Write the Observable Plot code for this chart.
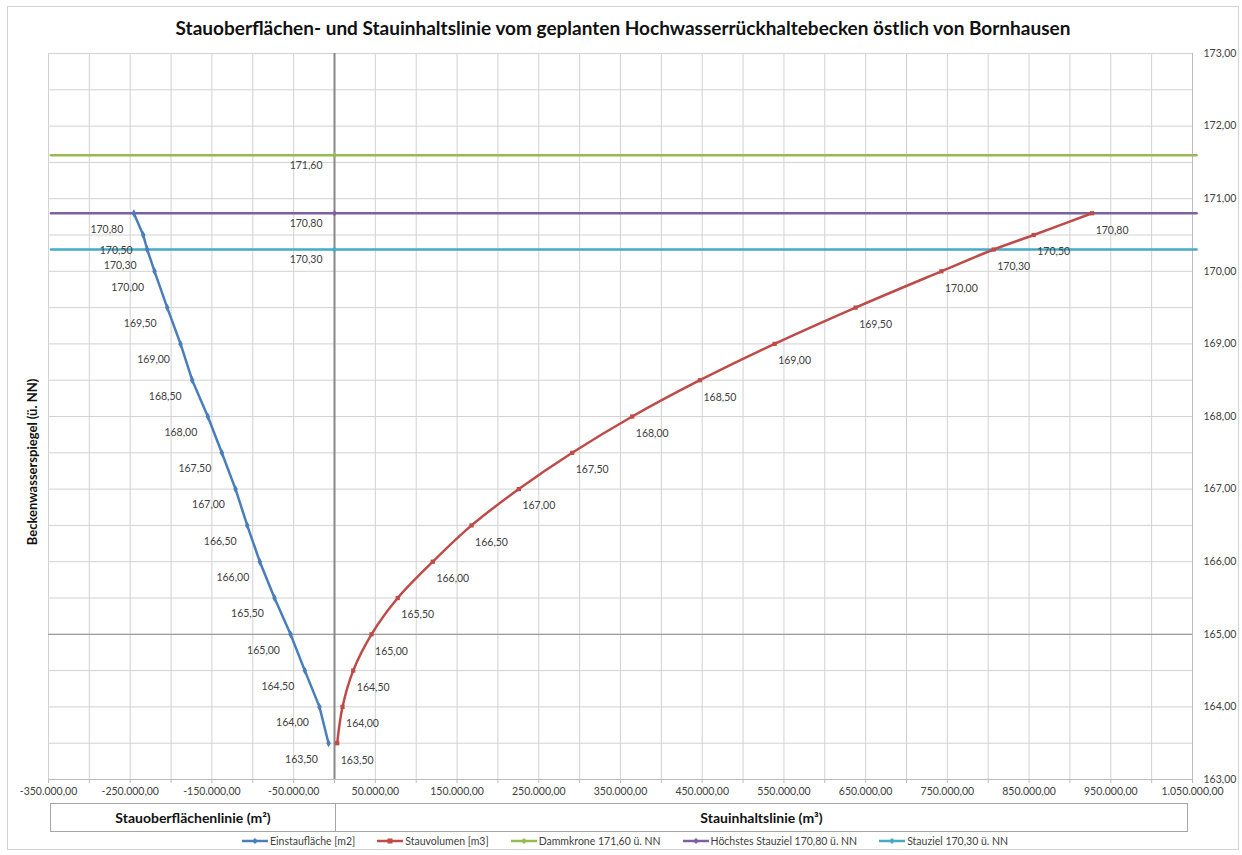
<!DOCTYPE html>
<html>
<head>
<meta charset="utf-8">
<script src="https://cdn.jsdelivr.net/npm/d3@7"></script>
<script src="https://cdn.jsdelivr.net/npm/@observablehq/plot@0.6"></script>
<style>
  body { margin: 0; background: #fff; font-family: Lato, "Open Sans", sans-serif; }
  #frame { position: absolute; left: 7px; top: 6px; width: 1232px; height: 844px; border: 1px solid #d4d4d4; box-sizing: border-box; }
  #title { position: absolute; left: 0; top: 16px; width: 1246px; text-align: center; font-weight: bold; font-size: 19px; color: #111; z-index: 2; }
  #chart { position: absolute; left: 0; top: 0; }
  #ylabel { position: absolute; left: -118px; top: 454px; width: 300px; text-align: center; font-weight: bold; font-size: 13px; line-height: 16px; color: #111; transform: rotate(-90deg); }
  #xbox { position: absolute; left: 50px; top: 803px; width: 1138px; height: 29px; border: 1px solid #a6a6a6; box-sizing: border-box; display: flex; font-weight: bold; font-size: 14px; color: #111; }
  #xbox div { display: flex; align-items: center; justify-content: center; }
  #legend { position: absolute; left: 0; top: 835px; width: 1250px; display: flex; justify-content: center; gap: 22px; font-size: 10.5px; color: #404040; }
  .item { display: flex; align-items: center; gap: 2px; }
</style>
</head>
<body>
<div id="frame"></div>
<div id="title"></div>
<div id="chart"></div>
<div id="ylabel"></div>
<div id="xbox"></div>
<div id="legend"></div>
<script>
// Water levels (m ü. NN) at which area and volume were computed
const levels = [163.5, 164.0, 164.5, 165.0, 165.5, 166.0, 166.5, 167.0, 167.5, 168.0, 168.5, 169.0, 169.5, 170.0, 170.3, 170.5, 170.8];
// Einstaufläche in m² (drawn to the left of the zero line, hence negative)
const flaeche = [-7300, -18400, -36300, -53800, -73400, -91400, -106800, -121100, -137900, -155000, -174100, -188400, -204700, -220200, -229200, -234100, -245600];
// Stauvolumen in m³
const volumen = [3300, 9800, 22900, 45300, 77400, 120300, 167700, 225600, 290900, 364400, 447200, 538600, 637700, 742700, 806700, 855600, 927100];

// Reference levels
const refNames = ["Dammkrone 171,60 ü. NN", "Höchstes Stauziel 170,80 ü. NN", "Stauziel 170,30 ü. NN"];
const refLevels = [171.6, 170.8, 170.3];
const refSpan = [-347000, 0, 1055000];

const seriesNames = ["Einstaufläche [m2]", "Stauvolumen [m3]"];
const titleText = "Stauoberflächen- und Stauinhaltslinie vom geplanten Hochwasserrückhaltebecken östlich von Bornhausen";
const yTitle = "Beckenwasserspiegel  (ü. NN)";
const xTitles = ["Stauoberflächenlinie (m²)", "Stauinhaltslinie (m³)"];

const xTicks = d3.range(-350000, 1050001, 50000);
const xLabelTicks = d3.range(-350000, 1050001, 100000);
const yTicks = d3.range(163, 173.001, 1);
const yGrid = d3.range(163, 173.001, 0.5);

const colors = { blue: "#4a7ebb", red: "#be4b48", green: "#98b954", purple: "#7d60a0", aqua: "#46aac5" };
const refColors = [colors.green, colors.purple, colors.aqua];

const de = d3.formatLocale({ decimal: ",", thousands: ".", grouping: [3], currency: ["", " €"], minus: "-" });
const fmt = de.format(",.2f");

const rows = levels.map((h, i) => ({ h, a: flaeche[i], v: volumen[i] }));
const refRows = refLevels.flatMap((lvl, k) => refSpan.map(x => ({ name: refNames[k], lvl, x, k })));
const refMid = refLevels.map((lvl, k) => ({ lvl, k }));

const chart = Plot.plot({
  width: 1242,
  height: 800,
  marginLeft: 48,
  marginRight: 50,
  marginTop: 53,
  marginBottom: 21,
  x: { domain: [-350000, 1050000] },
  y: { domain: [163, 173] },
  style: { fontFamily: "Lato, 'Open Sans', sans-serif", fontSize: "10.5px", color: "#404040", background: "transparent", overflow: "visible" },
  marks: [
    Plot.gridX(xTicks, { stroke: "#d2d2d2", strokeOpacity: 1 }),
    Plot.gridY(yGrid, { stroke: "#d2d2d2", strokeOpacity: 1 }),
    Plot.ruleY([165], { stroke: "#8c8c8c", strokeWidth: 1 }),
    Plot.ruleY([163], { stroke: "#bcbcbc", strokeWidth: 1 }),
    Plot.ruleX([1050000], { stroke: "#bcbcbc", strokeWidth: 1 }),
    Plot.ruleX([0], { stroke: "#888888", strokeWidth: 2 }),
    Plot.axisX({ ticks: xTicks, tickSize: 4, tickPadding: 4, label: null, stroke: "#bcbcbc",
      tickFormat: d => xLabelTicks.includes(d) ? fmt(d) : "" }),
    Plot.axisY({ anchor: "right", ticks: yTicks, tickSize: 0, tickPadding: 11, label: null, tickFormat: fmt }),
    // reference levels
    Plot.line(refRows, { x: "x", y: "lvl", z: "name", stroke: d => refColors[d.k], strokeWidth: 2.5 }),
    Plot.dot(refMid, { x: 0, y: "lvl", symbol: "diamond", r: 2.2, fill: d => refColors[d.k] }),
    Plot.text(refMid, { x: 0, y: "lvl", text: d => fmt(d.lvl), textAnchor: "end", dx: -12, dy: 10, fill: "#404040" }),
    // surface area line
    Plot.line(rows, { x: "a", y: "h", stroke: colors.blue, strokeWidth: 2.5 }),
    Plot.dot(rows, { x: "a", y: "h", symbol: "diamond", r: 2.4, fill: colors.blue }),
    Plot.text(rows, { x: "a", y: "h", text: d => fmt(d.h), dx: -27, dy: 16, fill: "#404040" }),
    // volume line
    Plot.line(rows, { x: "v", y: "h", stroke: colors.red, strokeWidth: 2.5, curve: "catmull-rom" }),
    Plot.dot(rows, { x: "v", y: "h", symbol: "square", r: 2.4, fill: colors.red }),
    Plot.text(rows, { x: "v", y: "h", text: d => fmt(d.h), dx: 20, dy: 17, fill: "#404040" })
  ]
});
document.getElementById("chart").append(chart);

document.getElementById("title").textContent = titleText;
document.getElementById("ylabel").textContent = yTitle;

// axis title cells split at the zero line
const box = document.getElementById("xbox");
const splitX = chart.scale("x").apply(0) - 50;
const c1 = document.createElement("div");
c1.style.width = splitX + "px";
c1.style.borderRight = "1px solid #a6a6a6";
c1.textContent = xTitles[0];
const c2 = document.createElement("div");
c2.style.flex = "1";
c2.textContent = xTitles[1];
box.append(c1, c2);

// legend
const legendItems = [
  { name: seriesNames[0], color: colors.blue, sym: "diamond" },
  { name: seriesNames[1], color: colors.red, sym: "square" },
  { name: refNames[0], color: colors.green, sym: "diamond" },
  { name: refNames[1], color: colors.purple, sym: "diamond" },
  { name: refNames[2], color: colors.aqua, sym: "diamond" }
];
const legend = document.getElementById("legend");
for (const it of legendItems) {
  const item = document.createElement("div");
  item.className = "item";
  const marker = it.sym === "square"
    ? `<rect x="10.5" y="2.5" width="5" height="5" fill="${it.color}"/>`
    : `<path d="M13 2 L16 5 L13 8 L10 5 Z" fill="${it.color}"/>`;
  item.innerHTML = `<svg width="26" height="10"><line x1="0" y1="5" x2="26" y2="5" stroke="${it.color}" stroke-width="2.5"/>${marker}</svg><span>${it.name}</span>`;
  legend.append(item);
}
</script>
</body>
</html>
